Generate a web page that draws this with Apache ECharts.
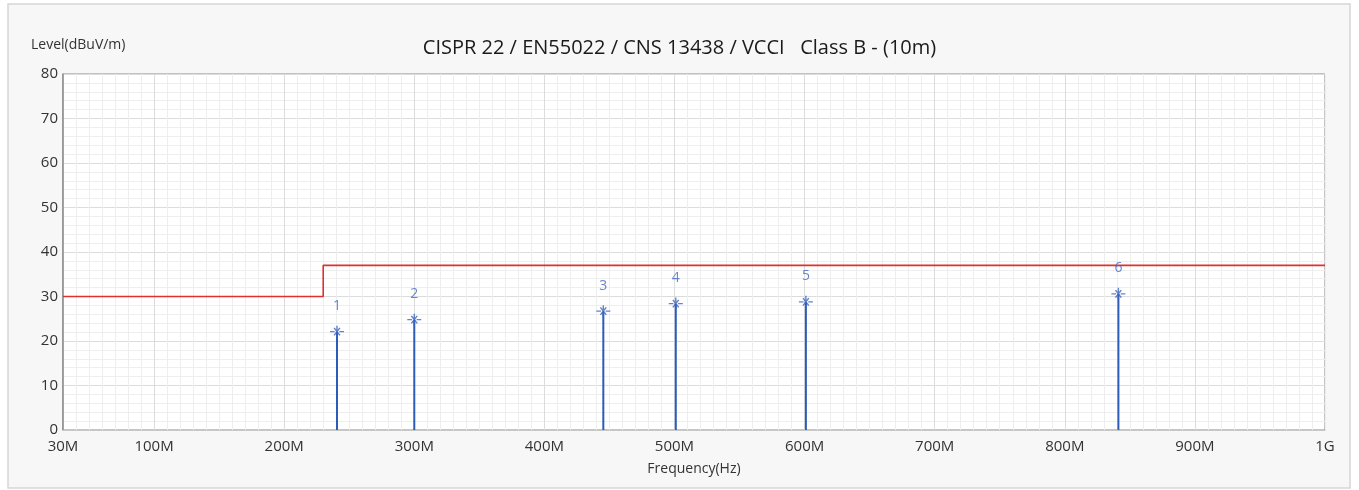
<!DOCTYPE html>
<html><head><meta charset="utf-8">
<script src="https://cdn.jsdelivr.net/npm/echarts@6/dist/echarts.min.js"></script>
<style>html,body{margin:0;padding:0;background:#fff}#c{width:1359px;height:490px}</style>
</head><body><div id="c"></div>
<script>
const titleText = 'CISPR 22 / EN55022 / CNS 13438 / VCCI   Class B - (10m)';
const yName = 'Level(dBuV/m)';
const xName = 'Frequency(Hz)';
const markerIds = ['1', '2', '3', '4', '5', '6'];
const markerFreq = [240.6, 300, 445.3, 501, 601, 841.2];
const markerLevel = [22.1, 24.8, 26.7, 28.4, 28.8, 30.6];
const limitFreq = [30, 230, 230, 1000];
const limitLevel = [30, 30, 37, 37];
const xMajorTicks = [30, 100, 200, 300, 400, 500, 600, 700, 800, 900, 1000];

const font = '"Open Sans","Noto Sans",sans-serif';
const blue = '#2b5cb8';
const fmtFreq = v => v >= 1000 ? (v / 1000) + 'G' : v + 'M';

const chart = echarts.init(document.getElementById('c'));
chart.setOption({
  animation: false,
  backgroundColor: '#ffffff',
  textStyle: { fontFamily: font },
  graphic: [{
    type: 'rect', z: -10, silent: true,
    shape: { x: 8, y: 4, width: 1342, height: 484 },
    style: { fill: '#f7f7f7', stroke: '#d6d6d6', lineWidth: 1.5 }
  }],
  title: {
    text: titleText, left: 'center', top: 33,
    textStyle: { fontSize: 20, fontWeight: 'normal', color: '#1a1a1a', fontFamily: font }
  },
  grid: {
    left: 63, right: 34, top: 74, bottom: 60, show: true,
    backgroundColor: '#ffffff', borderColor: '#8a8a8a', borderWidth: 1
  },
  xAxis: [{
    type: 'value', min: 30, max: 1000, interval: 10,
    name: xName, nameLocation: 'middle', nameGap: 32,
    nameTextStyle: { fontSize: 14, color: '#333' },
    axisLine: { show: true, lineStyle: { color: '#c8c8c8' } },
    axisTick: { show: false },
    axisLabel: {
      fontSize: 15, color: '#333', margin: 9,
      formatter: v => xMajorTicks.indexOf(v) >= 0 ? fmtFreq(v) : '',
      showMinLabel: true, showMaxLabel: true
    },
    splitLine: { show: true, lineStyle: { color: '#eeeeee', width: 1 } }
  }],
  yAxis: [{
    type: 'value', min: 0, max: 80, interval: 10,
    name: yName, nameLocation: 'end', nameGap: 22,
    nameTextStyle: { fontSize: 14, color: '#333', align: 'left', padding: [0, 0, 0, -32] },
    axisLine: { show: true, lineStyle: { color: '#8a8a8a', width: 1.5 } },
    axisTick: { show: false },
    axisLabel: { fontSize: 15, color: '#333', margin: 5 },
    splitLine: { show: true, lineStyle: { color: '#dcdcdc', width: 1 } },
    minorTick: { show: false, splitNumber: 5 },
    minorSplitLine: { show: true, lineStyle: { color: '#eeeeee', width: 1 } }
  }],
  series: [
    {
      type: 'line', name: 'majorX', silent: true, data: [], symbol: 'none',
      markLine: {
        silent: true, symbol: 'none', label: { show: false }, z: 1,
        lineStyle: { color: '#dcdcdc', width: 1, type: 'solid' },
        data: xMajorTicks.slice(1, -1).map(v => ({ xAxis: v }))
      },
      z: 1
    },
    {
      type: 'line', name: 'Limit', symbol: 'none', z: 3,
      lineStyle: { color: '#e0302c', width: 1.6 },
      data: limitFreq.map((f, i) => [f, limitLevel[i]])
    },
    {
      type: 'bar', name: 'stem', barWidth: 2, z: 4,
      itemStyle: { color: blue },
      data: markerFreq.map((f, i) => [f, markerLevel[i]])
    },
    {
      type: 'scatter', name: 'Marker', z: 5,
      symbol: 'path://M0,6 L4,6 M8,6 L12,6 M6,2 L6,10 M3.5,3.5 L8.5,8.5 M8.5,3.5 L3.5,8.5',
      symbolSize: [14, 12],
      itemStyle: { color: 'rgba(0,0,0,0)', borderColor: '#3a64bf', borderWidth: 1.3 },
      label: {
        show: true, position: 'top', distance: 12, fontSize: 14, color: '#4069c2',
        formatter: p => markerIds[p.dataIndex]
      },
      data: markerFreq.map((f, i) => [f, markerLevel[i]])
    }
  ]
});
</script></body></html>
